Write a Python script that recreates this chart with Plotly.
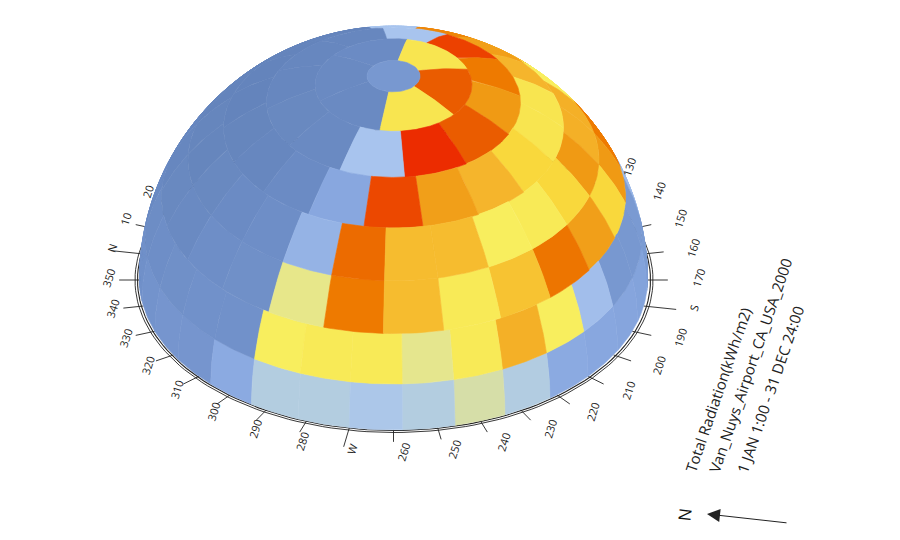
import math
import plotly.graph_objects as go

# Radiation level per sky patch (0-100 relative), listed from azimuth 0 going clockwise
ring1 = [9,8,8,8,8,8,8,8,8,8,10,12,14,15,15,18,19,20,21,37,49,38,33,38,38,21,12,12,11,10]
ring2 = [5,5,5,5,5,5,5,5,5,10,12,14,14,27,14,13,13,28,60,71,61,55,61,61,60,10,10,9,8,7]
ring3 = [3,3,3,3,3,3,10,30,80,80,80,75,65,74,81,68,61,69,80,56,9,8,5,4]
ring4 = [2,1,1,1,2,4,30,78,71,60,71,71,75,65,61,60,69,69,83,24,8,6,4,2]
ring5 = [1,1,1,1,30,78,74,70,62,62,65,70,74,92,20,6,3,2]
ring6 = [3,3,3,30,94,80,75,86,100,30,5,4]
ring7 = [5,6,62,86,62,5]
cap = 13
rings = [ring1, ring2, ring3, ring4, ring5, ring6, ring7]
ring_alts = [0, 12, 24, 36, 48, 60, 72, 84, 90]

tick_az = [130,140,150,160,170,180,190,200,210,220,230,240,250,260,270,280,290,300,310,320,330,340,350,0,10,20]
tick_lbl = ["130","140","150","160","170","S","190","200","210","220","230","240","250","260","W","280","290","300","310","320","330","340","350","N","10","20"]

title_lines = ["Total Radiation(kWh/m2)", "Van_Nuys_Airport_CA_USA_2000", "1 JAN 1:00 - 31 DEC 24:00"]

scale_stops = [(0,"#6383ba"),(10,"#7191ca"),(20,"#88a7df"),(30,"#a8c4ee"),(40,"#b6cfdc"),(50,"#d9e0a2"),
               (56,"#e7e78a"),(60,"#f8ee5e"),(65,"#f9d83c"),(70,"#f5b52c"),(75,"#f09a14"),(80,"#ee7a00"),
               (86,"#ea5c00"),(92,"#ec4800"),(100,"#ec2c00")]

def color(v):
    for (a, ca), (b, cb) in zip(scale_stops, scale_stops[1:]):
        if v <= b:
            t = (v - a) / (b - a)
            c = [round(int(ca[i:i+2], 16) * (1 - t) + int(cb[i:i+2], 16) * t) for i in (1, 3, 5)]
            return "rgb(%d,%d,%d)" % tuple(c)
    return scale_stops[-1][1]

CX, CY, R = 393.5, 280.0, 254.0
SE, CE = 0.59, 0.807
FRONT, RIGHT = 260.0, 170.0

def proj(az, alt=0.0, r=1.0, cx=CX, cy=CY, a=None, b=None):
    d = math.radians(az - RIGHT)
    ca, sa = math.cos(math.radians(alt)), math.sin(math.radians(alt))
    a = R * r if a is None else a
    b = R * r * SE if b is None else b
    return cx + a * ca * math.cos(d), cy + b * ca * math.sin(d) - R * r * CE * sa

def depth(az, alt):
    return math.cos(math.radians(alt)) * math.cos(math.radians(az - FRONT)) * CE + math.sin(math.radians(alt)) * SE

patches = []
for i, vals in enumerate(rings):
    w = 360.0 / len(vals)
    lo, hi = ring_alts[i], ring_alts[i + 1]
    for k, v in enumerate(vals):
        c = k * w
        n = max(6, int(w / 1.0))
        azs = [c - w / 2 + w * j / n for j in range(n + 1)]
        alts = [lo + (hi - lo) * j / 12 for j in range(13)]
        ds = [depth(a, h) for a in azs for h in alts]
        if max(ds) <= 0:
            continue
        cells = []
        if min(ds) > 0:
            cells.append([(a, lo) for a in azs] + [(azs[-1], h) for h in alts[1:]] +
                         [(a, hi) for a in reversed(azs[:-1])] + [(azs[0], h) for h in reversed(alts[1:-1])])
        else:
            # Patch crosses the dome's outline: keep only its front-facing cells
            for a0, a1 in zip(azs, azs[1:]):
                for h0, h1 in zip(alts, alts[1:]):
                    q = [(a0, h0), (a1, h0), (a1, h1), (a0, h1)]
                    if max(depth(a, h) for a, h in q) > 0:
                        cells.append(q)
        patches.append((depth(c, (lo + hi) / 2), v, cells))
patches.append((1.0, cap, [[(a * 6.0, ring_alts[-2]) for a in range(61)]]))
patches.sort(key=lambda p: p[0])

fig = go.Figure()

# Compass ring and ticks sit behind the dome
ra = list(range(0, 361, 2))
for a_, b_, w_ in [(259, 152.5, 0.9), (256.5, 150.5, 1.1)]:
    pts = [proj(z, 0, 1, 394, 280, a_, b_) for z in ra]
    fig.add_trace(go.Scatter(x=[p[0] for p in pts], y=[p[1] for p in pts], mode="lines",
                             line=dict(color="#222222", width=w_), hoverinfo="skip", showlegend=False))
tx, ty = [], []
for z, lab in zip(tick_az, tick_lbl):
    major = lab in ("N", "S", "W")
    k = 1.13 if major else 1.08
    x0, y0 = proj(z, 0, 1.0)
    x1, y1 = proj(z, 0, k)
    tx += [x0, x1, None]
    ty += [y0, y1, None]
fig.add_trace(go.Scatter(x=tx, y=ty, mode="lines", line=dict(color="#222222", width=0.9),
                         hoverinfo="skip", showlegend=False))

for _, v, cells in patches:
    xs, ys = [], []
    for cell in cells:
        xy = [proj(a, h) for a, h in cell]
        xs += [p[0] for p in xy] + [xy[0][0], None]
        ys += [p[1] for p in xy] + [xy[0][1], None]
    col = color(v)
    fig.add_trace(go.Scatter(x=xs, y=ys, mode="lines", fill="toself", fillcolor=col,
                             line=dict(color=col, width=0.6), hoverinfo="skip", showlegend=False))

ann = []
for z, lab in zip(tick_az, tick_lbl):
    x, y = proj(z, 0, 1, 403, 278, 295, 174)
    ann.append(dict(x=x, y=y, text=lab, showarrow=False, textangle=-72,
                    font=dict(family="Open Sans", size=11, color="#222222")))
for t, (x, y) in zip(title_lines, [(718, 390), (750, 366), (770, 390)]):
    ann.append(dict(x=x, y=y, text=t, showarrow=False, textangle=-71,
                    font=dict(family="Open Sans", size=15, color="#222222")))
ann.append(dict(x=684, y=515, text="N", showarrow=False, textangle=-83,
                font=dict(family="Open Sans", size=17, color="#111111")))
ann.append(dict(x=707, y=514, ax=788, ay=523, xref="x", yref="y", axref="x", ayref="y", text="",
                showarrow=True, arrowhead=2, arrowsize=2.6, arrowwidth=1, arrowcolor="#222222"))

# The page keeps its default 8 px body margin, so the axes start at 8 to keep figures in window pixels
fig.update_layout(width=900, height=540, margin=dict(l=0, r=0, t=0, b=0),
                  paper_bgcolor="white", plot_bgcolor="white", annotations=ann, showlegend=False,
                  xaxis=dict(range=[8, 908], visible=False, fixedrange=True),
                  yaxis=dict(range=[548, 8], visible=False, fixedrange=True))
fig.write_html("out.html")
